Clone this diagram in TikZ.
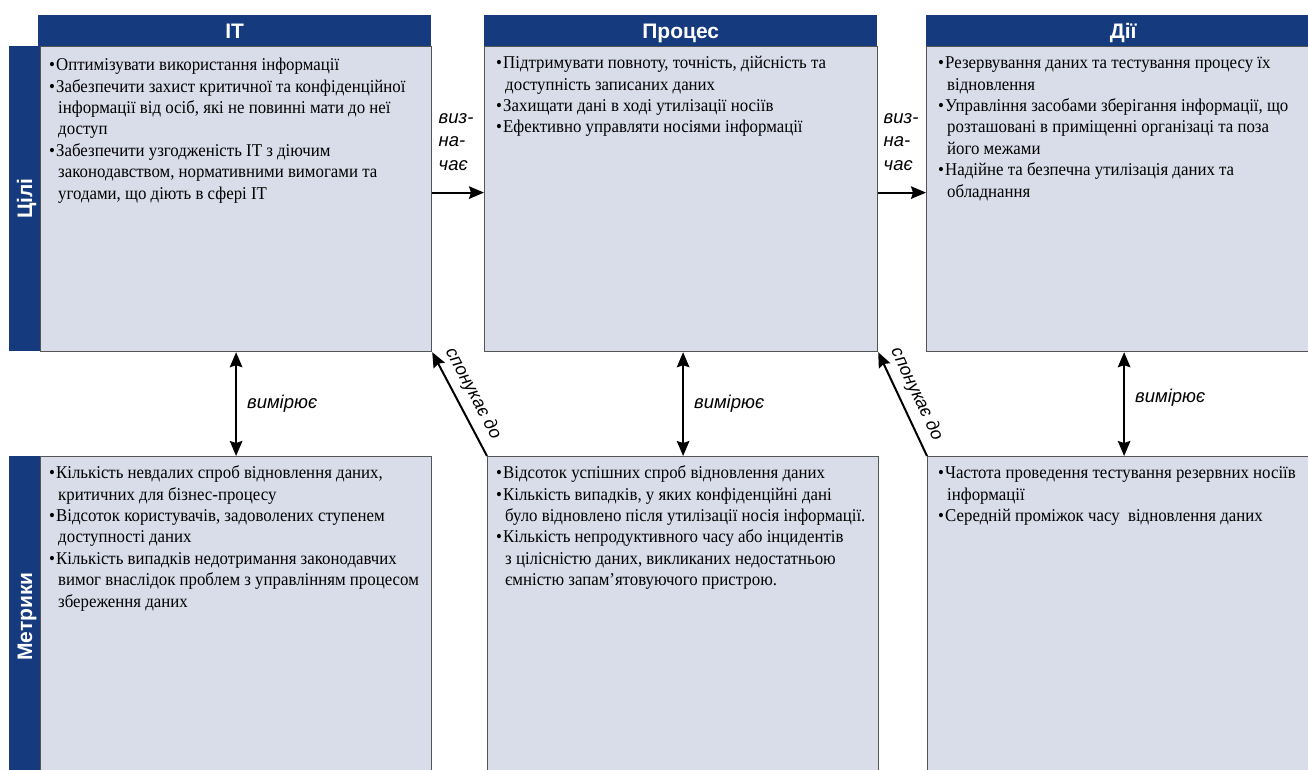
\documentclass[tikz,border=0pt]{standalone}
\usepackage{fontspec}
\setmainfont[FakeStretch=0.935]{Liberation Serif}
\newfontfamily\hsans{Liberation Sans}
\usetikzlibrary{arrows.meta}

\definecolor{navy}{RGB}{22,58,126}
\definecolor{boxfill}{RGB}{217,220,233}
\definecolor{boxedge}{RGB}{85,85,85}

% bullet line and continuation line of a list item
\newcommand\bul{\strut\makebox[7pt][l]{\textbullet}}
\newcommand\cnt{\strut\hspace*{9pt}}

\tikzset{
  panel/.style={draw=boxedge, line width=1.2pt, fill=boxfill, inner sep=0pt,
                anchor=north west},
  headbar/.style={fill=navy, inner sep=0pt, anchor=north west,
                  text height=15pt, text depth=0pt,
                  text=white, font=\hsans\bfseries\fontsize{21}{25}\selectfont},
  sidebar/.style={fill=navy, inner sep=0pt, anchor=north west},
  sidelab/.style={text=white, rotate=90, inner sep=0pt,
                  text height=15pt, text depth=0pt,
                  font=\hsans\bfseries\fontsize{21}{25}\selectfont},
  body/.style={anchor=north west, inner sep=0pt, align=left,
               font=\fontsize{18}{21.4}\selectfont},
  lab/.style={font=\hsans\itshape\fontsize{18.5}{23.5}\selectfont, inner sep=0pt},
  slab/.style={font=\hsans\itshape\fontsize{18}{21}\selectfont},
  arr/.style={line width=2pt, -{Stealth[length=15pt,width=12.5pt,inset=2pt]}},
  darr/.style={line width=2pt, {Stealth[length=15pt,width=12.5pt,inset=2pt]}-{Stealth[length=15pt,width=12.5pt,inset=2pt]}},
  rarr/.style={line width=2pt, {Stealth[length=15pt,width=12.5pt,inset=2pt]}-},
}

\begin{document}
\begin{tikzpicture}[x=1pt,y=-1pt]
\path[use as bounding box] (0,0) rectangle (1308,770);
\clip (0,0) rectangle (1308,770);

% panels: goals row and metrics row
\node[panel, minimum width=391pt, minimum height=305pt] (itg) at (40,46) {};
\node[panel, minimum width=393pt, minimum height=305pt] (prg) at (484,46) {};
\node[panel, minimum width=394pt, minimum height=305pt] (dig) at (926,46) {};
\node[panel, minimum width=391pt, minimum height=321pt] (itm) at (40,456) {};
\node[panel, minimum width=391pt, minimum height=321pt] (prm) at (487,456) {};
\node[panel, minimum width=393pt, minimum height=321pt] (dim) at (927,456) {};

% column headers
\node[headbar, minimum width=393pt, minimum height=31pt] (ith) at (38,15) {IT};
\node[headbar, minimum width=393pt, minimum height=31pt] (prh) at (484,15) {Процес};
\node[headbar, minimum width=394pt, minimum height=31pt] (dih) at (926,15) {Дії};

% row labels
\node[sidebar, minimum width=31pt, minimum height=305pt] (gbar) at (9,46) {};
\node[sidelab] (glab) at (gbar.center) {Цілі};
\node[sidebar, minimum width=31pt, minimum height=321pt] (mbar) at (9,456) {};
\node[sidelab] (mlab) at (mbar.center) {Метрики};

% goals
\node[body] (itgt) at (49,55.5) {%
\bul Оптимізувати використання інформації\\
\bul Забезпечити захист критичної та конфіденційної\\
\cnt інформації від осіб, які не повинні мати до неї\\
\cnt доступ\\
\bul Забезпечити узгодженість IT з діючим\\
\cnt законодавством, нормативними вимогами та\\
\cnt угодами, що діють в сфері IT};

\node[body] (prgt) at (496,53.5) {%
\bul Підтримувати повноту, точність, дійсність та\\
\cnt доступність записаних даних\\
\bul Захищати дані в ході утилізації носіїв\\
\bul Ефективно управляти носіями інформації};

\node[body] (digt) at (938,53.5) {%
\bul Резервування даних та тестування процесу їх\\
\cnt відновлення\\
\bul Управління засобами зберігання інформації, що\\
\cnt розташовані в приміщенні організаці та поза\\
\cnt його межами\\
\bul Надійне та безпечна утилізація даних та\\
\cnt обладнання};

% metrics
\node[body] (itmt) at (49,463.5) {%
\bul Кількість невдалих спроб відновлення даних,\\
\cnt критичних для бізнес-процесу\\
\bul Відсоток користувачів, задоволених ступенем\\
\cnt доступності даних\\
\bul Кількість випадків недотримання законодавчих\\
\cnt вимог внаслідок проблем з управлінням процесом\\
\cnt збереження даних};

\node[body] (prmt) at (496,463.5) {%
\bul Відсоток успішних спроб відновлення даних\\
\bul Кількість випадків, у яких конфіденційні дані\\
\cnt було відновлено після утилізації носія інформації.\\
\bul Кількість непродуктивного часу або інцидентів\\
\cnt з цілісністю даних, викликаних недостатньою\\
\cnt ємністю запам’ятовуючого пристрою.};

\node[body] (dimt) at (938,463.5) {%
\bul Частота проведення тестування резервних носіїв\\
\cnt інформації\\
\bul Середній проміжок часу\ \ відновлення даних};

% goals define the next column
\draw[arr] ([yshift=6.5pt]itg.east) -- ([yshift=6.5pt]prg.west)
  node[pos=0, lab, anchor=south west, align=left, xshift=5.5pt, yshift=21pt] {виз-\\на-\\чає};
\draw[arr] ([yshift=6.5pt]prg.east) -- ([yshift=6.5pt]dig.west)
  node[pos=0, lab, anchor=south west, align=left, xshift=4.5pt, yshift=21pt] {виз-\\на-\\чає};

% metrics measure goals
\draw[darr] (itg.south) -- (itg.south |- itm.north)
  node[midway, lab, anchor=west, xshift=10pt] {вимірює};
\draw[darr] (prm.north |- prg.south) -- (prm.north)
  node[midway, lab, anchor=west, xshift=10pt] {вимірює};
\draw[darr] (dim.north |- dig.south) -- (dim.north)
  node[midway, lab, anchor=west, xshift=10pt, yshift=6pt] {вимірює};

% metrics drive the previous column
\draw[rarr] (itg.south east) -- (prm.north west)
  node[midway, sloped, above=4pt, slab, xshift=-3pt] {спонукає до};
\draw[rarr] (prg.south east) -- (dim.north west)
  node[midway, sloped, above=4pt, slab, xshift=-3pt] {спонукає до};
\end{tikzpicture}
\end{document}
